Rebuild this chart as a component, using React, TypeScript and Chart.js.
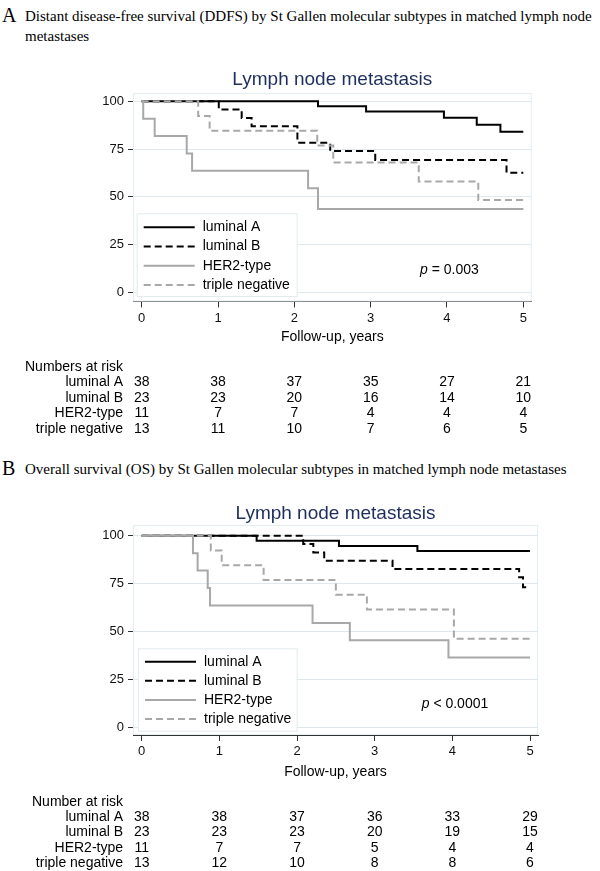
import React, { useEffect, useRef } from "react";
import { Chart, registerables } from "chart.js";
Chart.register(...registerables);

const SANS = "'Liberation Sans', Arial, Helvetica, sans-serif";
const SERIF = "'Liberation Serif', 'Times New Roman', Times, serif";

// ---- shared series styling ----
const groupNames = ["luminal A", "luminal B", "HER2-type", "triple negative"];
const groupColors = ["#000000", "#000000", "#a8a8a8", "#a8a8a8"];
const groupDashes = [[], [7, 4], [], [7, 4]];

const xTicks = [0, 1, 2, 3, 4, 5];
const yTicks = [0, 25, 50, 75, 100];
const riskTimes = [0, 1, 2, 3, 4, 5];

// ---- Panel A: DDFS ----
const ddfsLumATime = [0, 2.31, 2.94, 3.96, 4.39, 4.7, 5];
const ddfsLumAPct = [100, 97.4, 94.7, 91.4, 87.7, 84.0, 84.0];
const ddfsLumBTime = [0, 1.01, 1.31, 1.44, 2.04, 2.47, 3.06, 4.78, 5];
const ddfsLumBPct = [100, 95.7, 91.3, 87.0, 78.3, 74.0, 69.3, 62.6, 62.6];
const ddfsHer2Time = [0, 0.02, 0.17, 0.59, 0.66, 2.18, 2.31, 5];
const ddfsHer2Pct = [100, 90.9, 81.8, 72.7, 63.6, 54.5, 43.6, 43.6];
const ddfsTnTime = [0, 0.74, 0.89, 2.3, 2.51, 3.63, 4.41, 5];
const ddfsTnPct = [100, 92.3, 84.6, 76.9, 68.0, 58.0, 48.3, 48.3];

const ddfsRiskLumA = [38, 38, 37, 35, 27, 21];
const ddfsRiskLumB = [23, 23, 20, 16, 14, 10];
const ddfsRiskHer2 = [11, 7, 7, 4, 4, 4];
const ddfsRiskTn = [13, 11, 10, 7, 6, 5];

// ---- Panel B: OS ----
const osLumATime = [0, 1.48, 2.54, 3.55, 5];
const osLumAPct = [100, 97.4, 94.7, 92.0, 92.0];
const osLumBTime = [0, 2.08, 2.21, 2.35, 3.23, 4.86, 4.91, 5];
const osLumBPct = [100, 95.7, 91.3, 87.0, 82.6, 78.3, 73.1, 73.1];
const osHer2Time = [0, 0.66, 0.72, 0.85, 0.88, 2.2, 2.68, 3.95, 5];
const osHer2Pct = [100, 90.9, 81.8, 72.7, 63.6, 54.5, 45.5, 36.4, 36.4];
const osTnTime = [0, 0.89, 1.03, 1.57, 2.5, 2.9, 4.02, 5];
const osTnPct = [100, 92.3, 84.6, 76.9, 69.2, 61.5, 46.2, 46.2];

const osRiskLumA = [38, 38, 37, 36, 33, 29];
const osRiskLumB = [23, 23, 23, 20, 19, 15];
const osRiskHer2 = [11, 7, 7, 5, 4, 4];
const osRiskTn = [13, 12, 10, 8, 8, 6];

const kmOverlay = {
  id: "kmOverlay",
  beforeDatasetsDraw(chart: any) {
    const { ctx, chartArea: a } = chart;
    ctx.save();
    ctx.strokeStyle = "#e4edf0";
    ctx.lineWidth = 1;
    ctx.strokeRect(a.left + 0.5, a.top + 0.5, a.right - a.left - 1, a.bottom - a.top - 1);
    ctx.restore();
  },
  afterDraw(chart: any, _args: any, o: any) {
    const { ctx, chartArea: a, scales } = chart;
    const xs = scales.x;
    ctx.save();
    // title
    ctx.fillStyle = "#1e2f5e";
    ctx.font = `19px ${SANS}`;
    ctx.textAlign = "center";
    ctx.textBaseline = "middle";
    ctx.fillText(o.title, (a.left + a.right) / 2, a.top - o.titleGap);

    // legend
    const lb = o.legend;
    const bx = a.left + lb.dx;
    const by = a.bottom - lb.dy - lb.h;
    ctx.fillStyle = "#ffffff";
    ctx.fillRect(bx, by, lb.w, lb.h);
    ctx.strokeStyle = "#e2ebee";
    ctx.lineWidth = 1;
    ctx.strokeRect(bx + 0.5, by + 0.5, lb.w, lb.h);
    chart.data.datasets.forEach((ds: any, i: number) => {
      const yy = by + lb.row0 + i * lb.rowGap;
      ctx.beginPath();
      ctx.setLineDash(ds.borderDash || []);
      ctx.strokeStyle = ds.borderColor;
      ctx.lineWidth = ds.borderWidth;
      ctx.moveTo(bx + 7, yy);
      ctx.lineTo(bx + 58, yy);
      ctx.stroke();
      ctx.setLineDash([]);
      ctx.fillStyle = "#000";
      ctx.font = `14px ${SANS}`;
      ctx.textAlign = "left";
      ctx.textBaseline = "middle";
      ctx.fillText(ds.label, bx + 66, yy);
    });

    // p value
    const px = a.left + o.pDx;
    const py = a.bottom - o.pDy;
    ctx.textAlign = "left";
    ctx.textBaseline = "middle";
    ctx.fillStyle = "#000";
    ctx.font = `italic 14px ${SANS}`;
    ctx.fillText("p", px, py);
    const pw = ctx.measureText("p").width;
    ctx.font = `14px ${SANS}`;
    ctx.fillText(o.pRest, px + pw, py);

    // axis title
    ctx.textAlign = "center";
    ctx.fillText("Follow-up, years", (a.left + a.right) / 2, a.bottom + o.axisTitleDy);

    // risk table
    ctx.textAlign = "right";
    ctx.fillText(o.riskTitle, a.left - 10, a.bottom + o.riskHeadDy);
    o.risk.forEach((row: number[], i: number) => {
      const yy = a.bottom + o.riskRow0 + i * o.riskRowGap;
      ctx.textAlign = "right";
      ctx.fillText(groupNames[i], a.left - 10, yy);
      ctx.textAlign = "center";
      row.forEach((n, j) => {
        ctx.fillText(String(n), xs.getPixelForValue(riskTimes[j]), yy);
      });
    });
    ctx.restore();
  },
};

type PanelProps = {
  top: number;
  height: number;
  padding: { left: number; right: number; top: number; bottom: number };
  xMin: number;
  xMax: number;
  yMin: number;
  yMax: number;
  times: number[][];
  pcts: number[][];
  overlay: any;
};

function KMPanel(p: PanelProps) {
  const ref = useRef<HTMLCanvasElement | null>(null);
  useEffect(() => {
    if (!ref.current) return;
    const datasets = groupNames.map((name, i) => ({
      label: name,
      data: p.times[i].map((t, k) => ({ x: t, y: p.pcts[i][k] })),
      borderColor: groupColors[i],
      borderDash: groupDashes[i],
      borderWidth: 2,
      pointRadius: 0,
      stepped: "before" as const,
      fill: false,
      order: 3 - i,
    }));
    const chart = new Chart(ref.current, {
      type: "line",
      data: { datasets },
      plugins: [kmOverlay],
      options: {
        animation: false,
        responsive: false,
        maintainAspectRatio: false,
        layout: { padding: p.padding },
        plugins: {
          legend: { display: false },
          title: { display: false },
          tooltip: { enabled: false },
          kmOverlay: p.overlay,
        } as any,
        scales: {
          x: {
            type: "linear",
            min: p.xMin,
            max: p.xMax,
            afterBuildTicks: (s: any) => {
              s.ticks = xTicks.map((v) => ({ value: v }));
            },
            afterFit: (s: any) => {
              s.height = 30;
            },
            ticks: {
              color: "#111",
              font: { family: SANS, size: 13 },
              padding: 3,
              maxRotation: 0,
            },
            grid: { drawOnChartArea: false, tickColor: "#333", tickLength: 6 },
            border: { display: true, color: "#333", width: 1 },
          },
          y: {
            type: "linear",
            min: p.yMin,
            max: p.yMax,
            afterBuildTicks: (s: any) => {
              s.ticks = yTicks.map((v) => ({ value: v }));
            },
            afterFit: (s: any) => {
              s.width = 40;
            },
            ticks: {
              color: "#111",
              font: { family: SANS, size: 13 },
              padding: 4,
            },
            grid: { color: "#dde9ed", tickColor: "#333", tickLength: 5, lineWidth: 1 },
            border: { display: true, color: "#333", width: 1 },
          },
        },
      } as any,
    });
    return () => chart.destroy();
  }, []);
  return (
    <canvas
      ref={ref}
      width={600}
      height={p.height}
      style={{ position: "absolute", left: 0, top: p.top, width: 600, height: p.height }}
    />
  );
}

export default function App() {
  return (
    <div
      style={{
        position: "fixed",
        left: 0,
        top: 0,
        width: 600,
        height: 871,
        background: "#ffffff",
        overflow: "hidden",
      }}
    >
      <div style={{ position: "absolute", left: 2, top: 5, font: `20px ${SERIF}`, lineHeight: "20px" }}>A</div>
      <div
        style={{
          position: "absolute",
          left: 25,
          top: 6,
          font: `15px ${SERIF}`,
          lineHeight: "20px",
          whiteSpace: "nowrap",
        }}
      >
        Distant disease-free survival (DDFS) by St Gallen molecular subtypes in matched lymph node
        <br />
        metastases
      </div>
      <KMPanel
        top={50}
        height={395}
        padding={{ left: 93, right: 68.3, top: 43, bottom: 113.5 }}
        xMin={-0.114}
        xMax={5.11}
        yMin={-4.82}
        yMax={104.35}
        times={[ddfsLumATime, ddfsLumBTime, ddfsHer2Time, ddfsTnTime]}
        pcts={[ddfsLumAPct, ddfsLumBPct, ddfsHer2Pct, ddfsTnPct]}
        overlay={{
          title: "Lymph node metastasis",
          titleGap: 13,
          legend: { dx: 3.7, dy: 5.5, w: 160, h: 82.7, row0: 14, rowGap: 19.2 },
          pDx: 287,
          pDy: 31.5,
          pRest: " = 0.003",
          axisTitleDy: 36,
          riskTitle: "Numbers at risk",
          riskHeadDy: 65.5,
          riskRow0: 80.8,
          riskRowGap: 15.5,
          risk: [ddfsRiskLumA, ddfsRiskLumB, ddfsRiskHer2, ddfsRiskTn],
        }}
      />
      <div style={{ position: "absolute", left: 2, top: 458, font: `20px ${SERIF}`, lineHeight: "20px" }}>B</div>
      <div
        style={{
          position: "absolute",
          left: 25,
          top: 459,
          font: `15px ${SERIF}`,
          lineHeight: "20px",
          whiteSpace: "nowrap",
        }}
      >
        Overall survival (OS) by St Gallen molecular subtypes in matched lymph node metastases
      </div>
      <KMPanel
        top={485}
        height={386}
        padding={{ left: 93, right: 62, top: 40, bottom: 106 }}
        xMin={-0.112}
        xMax={5.103}
        yMin={-4.0}
        yMax={105.6}
        times={[osLumATime, osLumBTime, osHer2Time, osTnTime]}
        pcts={[osLumAPct, osLumBPct, osHer2Pct, osTnPct]}
        overlay={{
          title: "Lymph node metastasis",
          titleGap: 11,
          legend: { dx: 5, dy: 4.3, w: 158.7, h: 82.4, row0: 13.4, rowGap: 19.1 },
          pDx: 288.7,
          pDy: 30.7,
          pRest: " < 0.0001",
          axisTitleDy: 36.7,
          riskTitle: "Number at risk",
          riskHeadDy: 67,
          riskRow0: 82,
          riskRowGap: 15.4,
          risk: [osRiskLumA, osRiskLumB, osRiskHer2, osRiskTn],
        }}
      />
    </div>
  );
}
